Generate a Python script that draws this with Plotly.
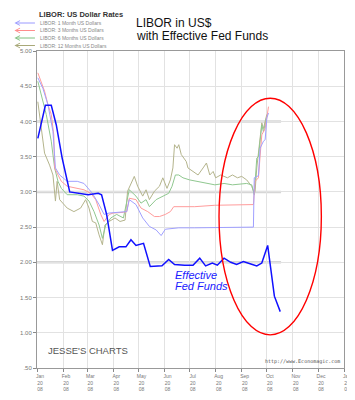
import plotly.graph_objects as go

# ---------------- data ----------------
ff_dates = ["2008-01-02","2008-01-11","2008-01-18","2008-01-24","2008-01-31","2008-02-06","2008-02-09",
            "2008-03-02","2008-03-14","2008-03-18","2008-03-24","2008-03-31","2008-04-08","2008-04-16",
            "2008-04-22","2008-04-28","2008-05-07","2008-05-15","2008-05-29","2008-06-06","2008-06-13",
            "2008-06-25","2008-07-05","2008-07-13","2008-07-20","2008-07-28","2008-08-03","2008-08-11",
            "2008-08-19","2008-08-26","2008-09-03","2008-09-11","2008-09-19","2008-09-25","2008-10-02",
            "2008-10-10","2008-10-17"]
ff_vals = [3.76,4.23,4.23,3.95,3.48,3.15,3.00,2.96,2.98,2.96,2.68,2.17,2.22,2.22,2.32,2.24,2.27,1.94,1.95,
           2.04,1.97,1.96,1.96,2.06,1.95,1.99,1.96,2.06,2.00,1.97,2.01,1.98,1.95,1.99,2.24,1.52,1.30]

m1_dates = ["2008-01-02","2008-01-08","2008-01-14","2008-01-20","2008-01-23","2008-01-28","2008-02-06",
            "2008-02-18","2008-02-26","2008-03-07","2008-03-15","2008-03-21","2008-03-27","2008-04-09",
            "2008-04-17","2008-04-20","2008-04-28","2008-05-06","2008-05-14","2008-05-22","2008-05-28",
            "2008-06-02","2008-06-18","2008-07-07","2008-08-15","2008-09-15","2008-09-16","2008-09-21",
            "2008-09-23","2008-09-27","2008-09-29","2008-10-01","2008-10-03"]
m1_vals = [4.62,4.47,4.24,3.86,3.34,3.24,3.15,3.15,3.12,2.98,2.82,2.68,2.70,2.71,2.72,2.89,2.82,2.63,2.51,
           2.46,2.38,2.47,2.49,2.49,2.49,2.50,3.20,3.23,3.62,3.72,3.74,4.05,4.12]

m3_dates = ["2008-01-02","2008-01-06","2008-01-10","2008-01-14","2008-01-18","2008-01-21","2008-01-22",
            "2008-01-26","2008-01-30","2008-02-06","2008-02-18","2008-02-26","2008-03-05","2008-03-11",
            "2008-03-17","2008-03-21","2008-03-27","2008-04-01","2008-04-13","2008-04-17","2008-04-20",
            "2008-04-28","2008-05-04","2008-05-12","2008-05-20","2008-05-26","2008-06-02","2008-06-08",
            "2008-06-12","2008-06-21","2008-07-07","2008-07-31","2008-08-23","2008-09-15","2008-09-17",
            "2008-09-21","2008-09-23","2008-09-25","2008-09-29","2008-10-01","2008-10-03"]
m3_vals = [4.69,4.57,4.43,4.24,4.10,3.81,3.34,3.24,3.15,3.08,3.05,3.03,2.98,2.89,2.68,2.58,2.68,2.70,2.71,
           2.72,2.91,2.89,2.77,2.72,2.65,2.65,2.68,2.72,2.79,2.79,2.79,2.81,2.81,2.82,3.15,3.20,3.51,3.81,
           3.90,4.05,4.21]

m6_dates = ["2008-01-02","2008-01-06","2008-01-12","2008-01-18","2008-01-22","2008-01-26","2008-01-30",
            "2008-02-06","2008-02-18","2008-02-26","2008-03-03","2008-03-09","2008-03-15","2008-03-19",
            "2008-03-23","2008-03-29","2008-04-05","2008-04-13","2008-04-17","2008-04-20","2008-04-28",
            "2008-05-04","2008-05-10","2008-05-14","2008-05-22","2008-05-30","2008-06-06","2008-06-10",
            "2008-06-14","2008-06-18","2008-06-23","2008-07-01","2008-07-11","2008-07-23","2008-07-31",
            "2008-08-11","2008-08-21","2008-09-07","2008-09-13","2008-09-16","2008-09-19","2008-09-21",
            "2008-09-25","2008-09-27","2008-10-01"]
m6_vals = [4.57,4.38,4.10,3.72,3.34,3.15,3.05,2.96,2.96,2.94,2.87,2.72,2.53,2.34,2.53,2.63,2.68,2.63,2.87,
           3.03,2.94,2.84,2.89,2.79,2.89,2.94,2.98,3.08,3.24,3.24,3.20,3.17,3.15,3.12,3.10,3.12,3.10,3.12,
           3.10,2.96,3.48,3.50,3.95,3.85,4.08]

m12_dates = ["2008-01-02","2008-01-06","2008-01-10","2008-01-16","2008-01-20","2008-01-23","2008-01-25",
             "2008-01-28","2008-02-02","2008-02-06","2008-02-14","2008-02-22","2008-02-28","2008-03-03",
             "2008-03-07","2008-03-11","2008-03-15","2008-03-19","2008-03-22","2008-03-27","2008-04-03",
             "2008-04-09","2008-04-15","2008-04-18","2008-04-26","2008-04-30","2008-05-06","2008-05-10",
             "2008-05-14","2008-05-20","2008-05-26","2008-05-30","2008-06-04","2008-06-08","2008-06-11",
             "2008-06-13","2008-06-16","2008-06-18","2008-06-21","2008-06-27","2008-06-29","2008-07-05",
             "2008-07-11","2008-07-17","2008-07-21","2008-07-25","2008-07-29","2008-08-01","2008-08-07",
             "2008-08-15","2008-08-21","2008-08-27","2008-09-01","2008-09-07","2008-09-13","2008-09-16",
             "2008-09-17","2008-09-19","2008-09-21","2008-09-25","2008-09-27","2008-10-01"]
m12_vals = [4.28,3.95,3.55,3.38,3.24,2.87,3.15,2.89,2.82,2.77,2.72,2.77,2.89,2.77,2.58,2.56,2.39,2.25,
            2.53,2.58,2.63,2.58,2.60,3.01,3.22,3.08,2.94,3.03,2.89,3.01,3.08,3.20,3.05,3.17,3.34,3.67,
            3.62,3.67,3.53,3.43,3.34,3.29,3.24,3.34,3.41,3.24,3.29,3.20,3.24,3.20,3.24,3.20,3.22,3.17,
            3.08,2.98,3.01,3.34,3.53,3.98,3.90,4.10]

month_ticks = ["2008-%02d-01" % m for m in range(1, 13)] + ["2009-01-01"]
month_names = ["Jan","Feb","Mar","Apr","May","Jun","Jul","Aug","Sep","Oct","Nov","Dec","Jan"]
month_years = ["08"] * 12 + ["09"]
y_ticks = [0.5, 1.0, 1.5, 2.0, 2.5, 3.0, 3.5, 4.0, 4.5, 5.0]
y_labels = [".50", "1.00", "1.50", "2.00", "2.50", "3.00", "3.50", "4.00", "4.50", "5.00"]

series = [
    ("LIBOR: 12 Months US Dollars", m12_dates, m12_vals, "#b4b48c"),
    ("LIBOR: 6 Months US Dollars", m6_dates, m6_vals, "#90c890"),
    ("LIBOR: 3 Months US Dollars", m3_dates, m3_vals, "#ff9c9c"),
    ("LIBOR: 1 Month US Dollars", m1_dates, m1_vals, "#a0a0ff"),
]

# ---------------- figure ----------------
L, R, T, B = 26, 16, 43, 40
W, H = 355, 400
pw, ph = W - L - R, H - T - B

def px(x):
    return (x - L) / pw

def py(y):
    return (H - B - y) / ph

fig = go.Figure()
for name, d, v, c in series:
    fig.add_trace(go.Scatter(x=d, y=v, mode="lines", name=name,
                             line=dict(color=c, width=1), showlegend=False))
fig.add_trace(go.Scatter(x=ff_dates, y=ff_vals, mode="lines", name="Effective Fed Funds",
                         line=dict(color="#1010ff", width=1.5), showlegend=False))

shapes = []
for yv in [2.0, 3.0, 4.0]:
    shapes.append(dict(type="line", xref="x", yref="y", x0="2008-01-01", x1="2008-10-18",
                       y0=yv, y1=yv, line=dict(color="#d6d6d6", width=2.5), layer="below"))
shapes.append(dict(type="circle", xref="x", yref="y", x0="2008-08-05", x1="2008-12-05",
                   y0=0.97, y1=4.33, line=dict(color="#ff0000", width=1.4)))

ann = []
ann.append(dict(x=px(125), y=py(15), xref="paper", yref="paper", xanchor="left", yanchor="middle",
                text="LIBOR in US$", showarrow=False,
                font=dict(family="Liberation Sans, Arial", size=12, color="#111")))
ann.append(dict(x=px(125), y=py(28), xref="paper", yref="paper", xanchor="left", yanchor="middle",
                text="with Effective Fed Funds", showarrow=False,
                font=dict(family="Liberation Sans, Arial", size=12, color="#111")))
ann.append(dict(x=px(26), y=py(6), xref="paper", yref="paper", xanchor="left", yanchor="middle",
                text="<b>LIBOR: US Dollar Rates</b>", showarrow=False,
                font=dict(family="Liberation Sans, Arial", size=7.5, color="#333")))
legend_rows = [("LIBOR: 1 Month US Dollars", "#9a9aff", 15),
               ("LIBOR: 3 Months US Dollars", "#ff8c8c", 22.5),
               ("LIBOR: 6 Months US Dollars", "#80c080", 30),
               ("LIBOR: 12 Months US Dollars", "#a8a878", 37.5)]
for txt, col, row in legend_rows:
    ann.append(dict(x=px(3), y=py(row), xref="paper", yref="paper", text="", showarrow=True,
                    ax=22, ay=0, arrowhead=5, arrowsize=0.9, arrowwidth=1, arrowcolor=col))
    ann.append(dict(x=px(27), y=py(row), xref="paper", yref="paper", xanchor="left", yanchor="middle",
                    text=txt, showarrow=False,
                    font=dict(family="Liberation Sans, Arial", size=5, color="#888")))
ann.append(dict(x="2008-06-11", y=1.825, xref="x", yref="y", xanchor="left", yanchor="middle",
                text="Effective", showarrow=False,
                font=dict(family="Liberation Sans, Arial", size=11, color="#1a1aff", style="italic")))
ann.append(dict(x="2008-06-11", y=1.662, xref="x", yref="y", xanchor="left", yanchor="middle",
                text="Fed Funds", showarrow=False,
                font=dict(family="Liberation Sans, Arial", size=11, color="#1a1aff", style="italic")))
ann.append(dict(x=px(35), y=py(342), xref="paper", yref="paper", xanchor="left", yanchor="middle",
                text="JESSE'S CHARTS", showarrow=False,
                font=dict(family="Liberation Sans Narrow, Liberation Sans, Arial", size=9.5, color="#555")))
ann.append(dict(x=px(337), y=py(353), xref="paper", yref="paper", xanchor="right", yanchor="middle",
                text="http://www.Economagic.com", showarrow=False,
                font=dict(family="DejaVu Sans Mono, monospace", size=5, color="#555")))

fig.update_layout(
    width=W, height=H, autosize=False,
    margin=dict(l=L, r=R, t=T, b=B, pad=0),
    paper_bgcolor="white", plot_bgcolor="white",
    shapes=shapes, annotations=ann, showlegend=False,
    xaxis=dict(type="date", range=["2008-01-01", "2009-01-01"], tickmode="array",
               tickvals=month_ticks,
               ticktext=[f"{n}<br>20<br>{yy}" for n, yy in zip(month_names, month_years)],
               tickfont=dict(family="Liberation Sans, Arial", size=5, color="#777"),
               ticklabelshift=3,
               showgrid=True, gridcolor="#e2e2e2", gridwidth=1,
               showline=True, linecolor="#999", linewidth=1, mirror=True,
               ticks="outside", ticklen=3, tickcolor="#888", zeroline=False),
    yaxis=dict(range=[0.5, 5.0], tickmode="array", tickvals=y_ticks, ticktext=y_labels,
               tickfont=dict(family="Liberation Sans, Arial", size=6, color="#777"),
               showgrid=True, gridcolor="#e2e2e2", gridwidth=1,
               showline=True, linecolor="#999", linewidth=1, mirror=True,
               ticks="outside", ticklen=3, tickcolor="#888", zeroline=False),
)

fig.write_html("out.html")
